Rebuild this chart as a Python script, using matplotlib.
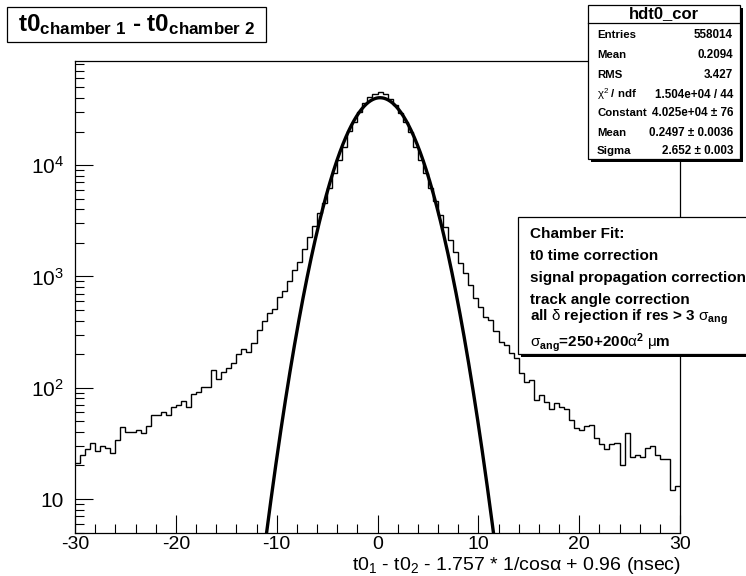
import numpy as np
import matplotlib
matplotlib.use("Agg")
import matplotlib.pyplot as plt
from matplotlib.patches import Rectangle
from matplotlib.ticker import FixedLocator, MultipleLocator, FuncFormatter, NullFormatter

plt.rcParams['font.family'] = ['Liberation Sans', 'DejaVu Sans']
plt.rcParams['mathtext.fontset'] = 'custom'
plt.rcParams['mathtext.rm'] = 'Liberation Sans'
plt.rcParams['mathtext.it'] = 'Liberation Sans:italic'
plt.rcParams['mathtext.bf'] = 'Liberation Sans:bold'

# hdt0_cor: 120 bins of 0.5 nsec between -30 and 30
x_low, x_high, n_bins = -30.0, 30.0, 120
counts = [
    21, 25, 28, 32, 27, 30, 29, 26, 34, 44,
    40, 40, 42, 39, 45, 57, 57, 60, 57, 67,
    70, 76, 67, 88, 91, 101, 101, 144, 120, 137,
    151, 166, 200, 221, 211, 254, 330, 400, 466, 513,
    657, 739, 915, 1141, 1356, 1763, 2236, 2855, 3688, 4594,
    6190, 8440, 11110, 14450, 20250, 24540, 29820, 35920, 40670, 43270,
    45110, 43270, 39260, 34670, 29210, 24540, 19960, 14450, 11110, 8405,
    6228, 4758, 3561, 2750, 2123, 1667, 1311, 1066, 837, 636,
    528, 429, 406, 325, 259, 242, 204, 184, 135, 113,
    117, 78, 86, 75, 65, 73, 67, 65, 51, 43,
    42, 45, 46, 35, 31, 28, 31, 32, 20, 39,
    24, 25, 24, 29, 30, 25, 23, 23, 12, 13,
]

# gaussian fit results
fit_constant, fit_constant_err = 4.025e4, 76
fit_mean, fit_mean_err = 0.2497, 0.0036
fit_sigma, fit_sigma_err = 2.652, 0.003
chi2, ndf = 1.504e4, 44

hist_name = "hdt0_cor"
stat_labels = ["Entries", "Mean", "RMS", r"$\mathrm{χ}^{2}$ / ndf", "Constant", "Mean", "Sigma"]
stat_values = [
    "558014", "0.2094", "3.427",
    f"{chi2:.3e} / {ndf}",
    f"{fit_constant:.3e} ± {fit_constant_err}",
    f"{fit_mean:.4f} ± {fit_mean_err}",
    f"{fit_sigma:.3f} ± {fit_sigma_err}",
]

note_lines = [
    "Chamber Fit:",
    "t0 time correction",
    "signal propagation correction",
    "track angle correction",
    r"all $\mathrm{δ}$ rejection if res > 3 $\mathrm{σ}_{\mathbf{ang}}$",
    r"$\mathrm{σ}_{\mathbf{ang}}$=250+200$\mathrm{α}^{\mathbf{2}}$ $\mathrm{μ}$m",
]

W, H = 746, 576


def fx(x):
    return x / W


def fy(y):
    return 1 - y / H


def box(fig, x0, y0, x1, y1, shadow=0):
    if shadow:
        fig.add_artist(Rectangle((fx(x0 + shadow), fy(y1 + shadow)), fx(x1 - x0), (y1 - y0) / H,
                                 transform=fig.transFigure, facecolor='black', edgecolor='none'))
    fig.add_artist(Rectangle((fx(x0), fy(y1)), fx(x1 - x0), (y1 - y0) / H,
                             transform=fig.transFigure, facecolor='white', edgecolor='black', lw=0.9))


fig = plt.figure(figsize=(W / 100, H / 100), dpi=100)
ax = fig.add_axes([fx(75), fy(533), fx(680 - 75), (533 - 61) / H])

edges = np.linspace(x_low, x_high, n_bins + 1)
ax.stairs(counts, edges, baseline=None, color='black', lw=1.0)

xf = np.linspace(x_low, x_high, 1200)
yf = fit_constant * np.exp(-0.5 * ((xf - fit_mean) / fit_sigma) ** 2)
ax.plot(xf, yf, color='black', lw=2.4)

ax.set_yscale('log')
ax.set_xlim(x_low, x_high)
ax.set_ylim(4.95, 8.6e4)

ax.xaxis.set_major_locator(MultipleLocator(10))
ax.xaxis.set_minor_locator(MultipleLocator(2))
ax.xaxis.set_major_formatter(FuncFormatter(lambda v, p: f"{v:.0f}"))

ax.yaxis.set_major_locator(FixedLocator([10, 100, 1000, 10000]))
minors = [m * 10.0 ** d for d in range(0, 5) for m in range(2, 10)]
ax.yaxis.set_minor_locator(FixedLocator(minors))
ax.yaxis.set_minor_formatter(NullFormatter())
ax.yaxis.set_major_formatter(FuncFormatter(
    lambda v, p: "10" if v == 10 else r"$\mathregular{10^{%d}}$" % round(np.log10(v))))

ax.tick_params(axis='x', which='major', direction='in', length=13, width=0.8, labelsize=14, pad=2,
               top=False)
ax.tick_params(axis='x', which='minor', direction='in', length=6.5, width=0.8, top=False)
ax.tick_params(axis='y', which='major', direction='in', length=13, width=0.8, labelsize=15, pad=8,
               right=False)
ax.tick_params(axis='y', which='minor', direction='in', length=6.5, width=0.8, right=False)
for s in ax.spines.values():
    s.set_linewidth(0.9)

fig.text(fx(681), fy(570), r"t0$_1$ - t0$_2$ - 1.757 * 1/cosα + 0.96 (nsec)",
         ha='right', va='baseline', fontsize=14)

# title box
box(fig, 7, 7, 266, 42)
fig.text(fx(136), fy(25), r"$\mathbf{t0_{chamber\ 1}}$ - $\mathbf{t0_{chamber\ 2}}$",
         ha='center', va='center', fontsize=17.5, fontweight='bold')

# statistics box
sx0, sy0, sx1, sy1 = 588, 5, 740, 159
box(fig, sx0, sy0, sx1, sy1, shadow=3)
fig.add_artist(plt.Line2D([fx(sx0), fx(sx1)], [fy(23), fy(23)], transform=fig.transFigure,
                          color='black', lw=0.9))
fig.text(fx((sx0 + sx1) / 2), fy(14), hist_name, ha='center', va='center',
         fontsize=12, fontweight='bold')
row_y = [35.5, 55, 75.5, 94.5, 113.5, 132.5, 151]
for lab, val, y in zip(stat_labels, stat_values, row_y):
    fig.text(fx(597), fy(y), lab, ha='left', va='center', fontsize=8.2, fontweight='bold')
    fig.text(fx(733), fy(y), val, ha='right', va='center', fontsize=8.4, fontweight='bold')

# fit description box
box(fig, 518, 217, 770, 354, shadow=3)
note_y = [234, 256, 278, 300, 317, 343]
for line, y in zip(note_lines, note_y):
    fig.text(fx(530), fy(y), line, ha='left', va='center', fontsize=11, fontweight='bold')

fig.savefig("out.png", dpi=100)
